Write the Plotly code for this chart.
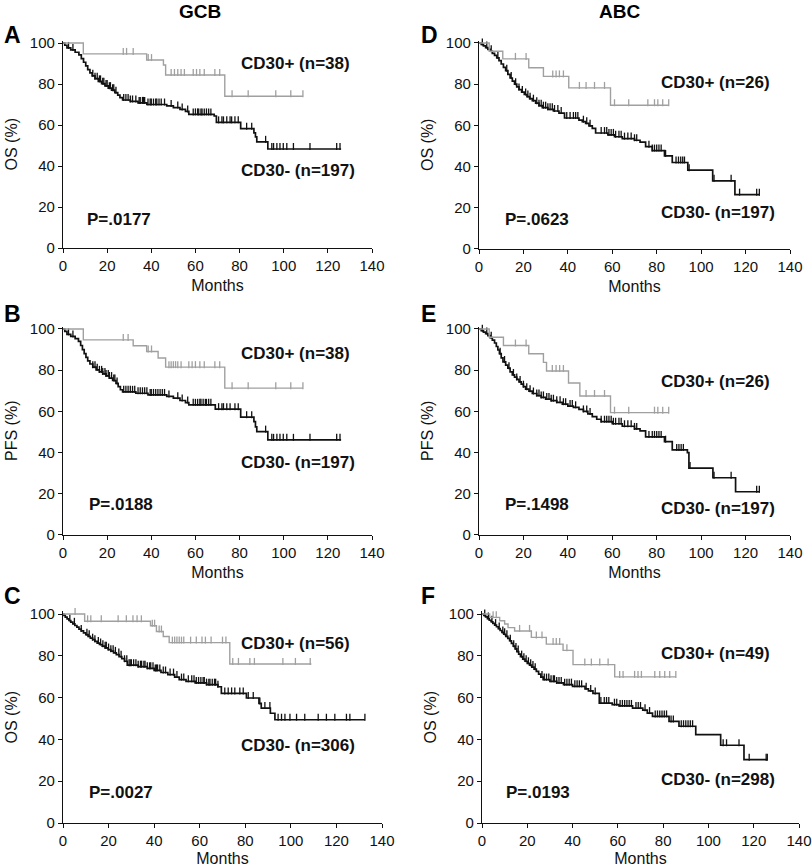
import plotly.graph_objects as go

# ---- data ----
# A: OS, GCB
a_pos_t = [9.2, 37.9, 45.5, 46.5, 73.3]
a_pos_s = [94.7, 91.7, 89.3, 84.4, 74.0]
a_pos_cens = [27.3, 28.8, 31.8, 38.6, 40.1, 49, 50.5, 52, 53.5, 55, 59, 60.5, 62, 64, 68.8, 71,
              76.6, 83.9, 96.4, 103.2, 108.7]
a_pos_end = 108.7
a_neg_t = [0.8, 1.8, 3.5, 5.5, 7.2, 8.3, 9.3, 10.3, 11.2, 12.2, 13.2, 14.5, 16, 17.5, 19, 20.5, 22,
           23.5, 24.8, 25.8, 27, 30.5, 34, 38, 47, 50, 53, 55.5, 57, 68.5, 69.5, 80.5, 86.5, 87.2,
           87.8, 92.8]
a_neg_s = [98.9, 97.6, 96.6, 95.5, 94.2, 92.4, 90.6, 88.8, 87.0, 85.4, 84.0, 82.6, 81.3, 80.2, 79.1,
           78.0, 77.0, 75.8, 74.6, 73.4, 72.2, 71.5, 70.8, 70.0, 69.3, 68.5, 67.6, 66.6, 65.2, 64.4,
           61.3, 58.2, 56.2, 54.2, 51.8, 48.3]
a_neg_cens = [2.5, 4.5, 13.5, 14.5, 15.5, 16.5, 17, 18, 18.5, 19.5, 20, 21, 21.5, 22.5, 23, 24, 27.5,
              28.5, 29.5, 30.5, 31.5, 33, 34.5, 35, 36, 36.5, 37, 38.5, 39.5, 40, 41, 42, 42.5, 43.5,
              44.5, 46, 49, 52, 54, 56.5, 59, 60, 61, 61.5, 62.5, 63, 64, 65, 66, 67, 70.5, 72, 72.7,
              74.2, 75.7, 76.4, 77.9, 79.4, 83.2, 85.5, 91.8, 94.6, 95.4, 96.9, 98.3, 99.8, 101.4,
              104.4, 111.9, 124, 125.5]
a_neg_end = 126

# B: PFS, GCB
b_pos_t = [9.2, 31.8, 37.9, 43.1, 46.5, 73.3]
b_pos_s = [94.7, 91.9, 89.1, 85.9, 81.5, 71.3]
b_pos_cens = [27.3, 29.5, 38.6, 40.1, 48, 49, 50, 51, 52, 53.5, 57, 58.5, 60, 62, 64, 68.8, 71, 76.6,
              83.9, 96.4, 103.2, 108.7]
b_pos_end = 108.7
b_neg_t = [0.8, 1.8, 3.5, 5.5, 7, 8, 8.8, 9.6, 10.4, 11.2, 12.2, 13.5, 15, 16.5, 18, 19.5, 21, 22.5,
           24, 25, 26, 27, 33, 38.5, 47, 50, 53, 55.5, 57, 69, 80.5, 86.5, 87.2, 87.8, 92.8]
b_neg_s = [98.8, 97.4, 96.4, 95.3, 94.0, 92.0, 90.0, 88.0, 86.2, 84.5, 83.0, 81.5, 80.2, 79.2, 78.2,
           77.2, 76.2, 75.0, 73.6, 72.0, 70.5, 69.5, 68.8, 68.0, 67.3, 66.4, 65.3, 64.3, 63.2, 61.1,
           57.2, 55.0, 52.5, 50.2, 46.2]
b_neg_cens = [2.5, 4.5, 13.5, 14.5, 15.5, 16.5, 17.5, 18, 19, 19.5, 20.5, 21, 22, 23, 23.5, 24.5,
              27.5, 28.5, 29.5, 30.5, 31.5, 32.5, 34, 35, 36, 37, 38, 39.5, 40, 41, 42, 43, 44, 45,
              46, 48, 52, 54, 56.5, 59, 60, 61, 62, 62.5, 63.5, 64.5, 65, 66, 67, 70.5, 72, 72.7,
              74.2, 75.7, 77.9, 79.4, 83.2, 85.5, 91.8, 94.6, 95.4, 96.9, 98.3, 99.8, 101.4, 104.4,
              111.9, 124, 125.5]
b_neg_end = 126

# C: OS, GCB (larger cohort)
c_pos_t = [9.5, 38.4, 41, 44, 46.6, 73.2]
c_pos_s = [96.5, 94.4, 91.6, 89.2, 86.3, 76.1]
c_pos_cens = [5.3, 10.8, 12.2, 16.8, 24.2, 27.8, 30.7, 32.5, 34.4, 39.2, 40.2, 42.2, 43.2, 48, 49,
              50, 51, 52, 53, 56, 58.5, 61, 62.5, 65, 70, 71.5, 74.5, 77, 82, 84, 96.5, 102, 108.5]
c_pos_end = 109
c_neg_t = [0.4, 1, 1.8, 2.6, 3.4, 4.3, 5.2, 6.1, 7, 8, 9, 10, 11, 12, 13, 14, 15, 16, 17.2, 18.5,
           19.8, 21, 22.2, 23.4, 24.6, 25.8, 27, 28.2, 33, 37, 40, 43, 46, 49, 51, 54, 58, 63, 68,
           69.5, 80.5, 86, 87, 91, 93]
c_neg_s = [99.3, 98.5, 97.7, 96.9, 96.1, 95.3, 94.5, 93.7, 92.8, 91.9, 91.0, 90.1, 89.3, 88.5, 87.7,
           86.9, 86.1, 85.4, 84.6, 83.8, 83.0, 82.2, 81.4, 80.6, 79.6, 78.6, 77.4, 75.5, 74.8, 74.0,
           73.0, 72.0, 71.0, 69.8, 68.6, 67.8, 67.0, 66.2, 65.2, 62.0, 59.8, 57.2, 55.0, 52.5, 49.4]
c_neg_cens = [3, 5, 8, 10.5, 11.5, 13, 14, 15.5, 16.5, 17.5, 18.5, 19, 20, 21, 22, 23, 24.5, 25.5,
              27, 28, 29, 29.5, 30, 31, 32, 33, 34, 34.5, 35.5, 36, 37, 38, 38.5, 39.5, 40.5, 41,
              41.5, 42.5, 44, 45, 47, 48.5, 50, 52, 53, 55, 56.5, 57.5, 58.5, 59.5, 60.5, 61.5, 62,
              63, 64, 64.5, 65.5, 66.5, 67, 68, 71, 72.5, 74, 75.4, 77.6, 79.1, 81.3, 83.5, 86.4,
              88.6, 90.8, 94.4, 95.9, 97.4, 99.6, 102.5, 106.1, 112, 115.6, 119.3, 124.4, 125.9,
              132.5]
c_neg_end = 132.5

# D: OS, ABC
d_pos_t = [4.6, 10.7, 22.4, 29, 40.4, 59.2]
d_pos_s = [96.0, 92.3, 88.0, 83.8, 78.2, 69.8]
d_pos_cens = [16.4, 21.2, 33.2, 34.7, 36.2, 38, 45.2, 48.2, 52, 56.5, 61, 67.4, 76, 79, 80.5, 82.7,
              85.4]
d_pos_end = 85.4
d_neg_t = [1, 2, 3, 4, 5, 6, 7, 8, 9, 10, 11, 12, 13, 14, 15, 16, 17, 18, 19.2, 20.4, 21.6, 22.8,
           24, 25.5, 27, 28.5, 31, 33.5, 36, 38.5, 45, 46.5, 48, 49.5, 51, 52.5, 58, 61, 64.5, 70,
           72.5, 75, 78, 83.5, 87, 94, 105.2, 115.2]
d_neg_s = [99.3, 98.6, 97.8, 96.9, 96.0, 95.0, 94.0, 92.8, 91.4, 89.8, 88.2, 86.6, 84.8, 83.0, 81.5,
           80.0, 78.7, 77.4, 76.2, 75.0, 74.0, 73.0, 72.0, 70.8, 69.6, 68.6, 67.8, 67.0, 66.0, 63.6,
           62.6, 61.8, 61.0, 59.8, 58.6, 56.3, 55.4, 54.5, 53.6, 52.8, 51.9, 49.7, 47.8, 45.2, 42.0,
           38.3, 33.1, 26.4]
d_neg_cens = [1.5, 3.5, 5.5, 8.5, 12.5, 14.5, 16.5, 18, 19.5, 21, 22, 23, 24.5, 26, 27, 28, 29, 30,
              31, 32, 33, 34, 35.5, 37, 39.5, 41, 42.5, 43.5, 44.5, 47, 48.5, 50, 55, 56.5, 57.5,
              58.5, 59.5, 60.5, 61.5, 63, 64, 65.5, 67, 68.5, 70, 71, 76.5, 78, 79, 80, 81, 82, 84,
              88.7, 89.8, 90.8, 91.7, 92.5, 94.6, 105.8, 113.5, 117.3, 125, 126.2]
d_neg_end = 126.5

# E: PFS, ABC
e_pos_t = [4.6, 11, 22.4, 29, 30.4, 40.3, 45.4, 59.2]
e_pos_s = [96.0, 92.0, 88.0, 83.8, 79.6, 73.8, 67.5, 59.4]
e_pos_cens = [16.4, 21.2, 33, 34.7, 36.3, 38, 48.2, 52, 56.5, 61, 67.4, 79, 80.5, 82.7, 85.4]
e_pos_end = 85.4
e_neg_t = [1, 2, 3, 4, 5, 6, 7, 7.8, 8.5, 9.2, 10, 10.8, 12, 13, 14, 15, 16, 17, 18, 19, 20, 21,
           22.5, 24, 26, 28, 30, 32.5, 35, 37.5, 40, 42.5, 45, 47, 49, 51, 53, 55, 60, 64.5, 70,
           72.5, 75, 83.5, 87, 93.8, 94.5, 105.3, 115.5]
e_neg_s = [99.2, 98.5, 97.8, 96.8, 95.8, 94.6, 93.2, 91.5, 89.8, 88.0, 86.0, 84.0, 82.5, 81.0, 79.2,
           77.7, 76.6, 75.5, 74.3, 73.2, 72.0, 70.8, 69.8, 68.7, 67.7, 66.8, 66.0, 65.2, 64.4, 63.5,
           62.6, 62.0, 61.0, 60.0, 58.8, 57.5, 56.2, 55.0, 54.0, 52.8, 51.5, 50.5, 47.6, 45.3, 41.3,
           40.0, 32.5, 27.8, 21.0]
e_neg_cens = [1.5, 3.5, 5.5, 9.5, 11.5, 13.5, 15.5, 17, 18.5, 20, 21.5, 23, 24.5, 26, 27, 28, 29,
              30.5, 31.5, 32.5, 33.5, 35, 36.5, 38, 39, 41, 42, 43.5, 47, 48.5, 50, 55, 56.5, 57.5,
              58.5, 59.5, 60.5, 61.5, 63, 64, 65.5, 67, 68.5, 70, 71, 76.5, 78, 79, 80, 81, 82, 84,
              89, 90, 91, 92, 95, 105.8, 113.5, 125, 126.2]
e_neg_end = 126.5

# F: OS, ABC (larger cohort)
f_pos_t = [3.4, 7.8, 10, 11.5, 14.4, 21.8, 28.4, 35.8, 40.2, 58.6]
f_pos_s = [98.4, 96.8, 95.2, 93.5, 91.9, 88.8, 85.6, 82.6, 75.8, 69.9]
f_pos_cens = [4.9, 6.3, 16.6, 21, 24, 26.5, 31.4, 32.8, 34.3, 37.5, 45.4, 48.3, 52, 55.7, 60.8, 62.3,
              67.4, 68.9, 70.4, 76.3, 78.5, 80.7, 82.9, 85.6]
f_pos_end = 85.6
f_neg_t = [0.8, 1.6, 2.4, 3.2, 4, 4.8, 5.6, 6.4, 7.2, 8, 8.8, 9.6, 10.5, 11.4, 12.2, 13, 13.8, 14.6,
           15.4, 16.2, 17, 18, 19, 20, 21, 22, 23, 24, 25, 26, 27, 30, 33, 36, 40, 45.5, 47, 49,
           51.8, 57.5, 60.5, 66.5, 71, 73, 75.3, 82.6, 87, 94.4, 105.4, 115.7]
f_neg_s = [99.3, 98.6, 97.8, 97.0, 96.3, 95.5, 94.7, 93.9, 93.0, 92.1, 91.2, 90.3, 89.3, 88.3, 87.2,
           85.9, 84.6, 83.3, 82.0, 80.8, 79.6, 78.4, 77.4, 76.4, 75.5, 74.6, 73.6, 72.5, 71.2, 69.8,
           68.6, 67.8, 67.0, 66.2, 65.4, 64.2, 63.2, 62.0, 57.4, 56.6, 56.0, 55.0, 54.0, 52.6, 51.0,
           48.6, 46.3, 42.3, 37.2, 30.3]
f_neg_cens = [1.2, 2.8, 4.4, 6, 7.6, 9.2, 10, 11, 12.5, 14, 15, 16, 17.5, 18.5, 19.5, 20.5, 21.5,
              22.5, 23.5, 26.5, 27.5, 28.5, 29.5, 30.5, 31.5, 32, 33, 34, 35, 36.5, 37.5, 38.5, 39.5,
              41, 42, 43, 44, 46, 48, 50, 52.5, 54, 55, 56, 58.5, 59.5, 61, 62, 63, 64, 65, 66, 68,
              69, 70, 72, 74, 76.5, 77.5, 78.5, 79.5, 80.5, 81.5, 83.5, 84.5, 88, 89, 90, 91, 92,
              93, 106.5, 108, 113.5, 118, 125.5, 126]
f_neg_end = 126

pos_labels = ["CD30+ (n=38)", "CD30+ (n=38)", "CD30+ (n=56)", "CD30+ (n=26)", "CD30+ (n=26)", "CD30+ (n=49)"]
neg_labels = ["CD30- (n=197)", "CD30- (n=197)", "CD30- (n=306)", "CD30- (n=197)", "CD30- (n=197)", "CD30- (n=298)"]
p_values = ["P=.0177", "P=.0188", "P=.0027", "P=.0623", "P=.1498", "P=.0193"]
y_titles = ["OS (%)", "PFS (%)", "OS (%)", "OS (%)", "PFS (%)", "OS (%)"]
panel_letters = ["A", "B", "C", "D", "E", "F"]
col_titles = ["GCB", "ABC"]

# ---- layout helpers ----
W, H = 812, 867
GRAY = "#a0a0a0"
INK = "#111111"
FONT = "Liberation Sans, Arial, sans-serif"
YTOP = 101.2

# pixel boxes: x at 0, x at 140, y at 100, y at 0
boxes = [(63, 372, 43, 248), (63, 372, 329, 535), (63, 382, 614, 823),
         (479, 790, 43, 249), (479, 790, 329, 535), (482, 799, 614, 823)]
# label positions in data units: (+ label x, y), (- label x, y), (P x, y)
label_pos = [((80.2, 89.8), (80.2, 37.6), (10.4, 13.7)),
             ((80.2, 88.3), (80.2, 35.4), (11.3, 14.6)),
             ((77.7, 86.1), (77.7, 37.3), (11.0, 14.4)),
             ((81.5, 80.6), (81.5, 17.5), (11.3, 14.1)),
             ((81.5, 74.3), (81.5, 13.1), (11.3, 14.6)),
             ((78.6, 81.3), (78.6, 20.6), (10.2, 14.4))]
letter_px = [(2, 35), (2, 314), (2, 596), (419, 35), (419, 314), (419, 596)]

curves = [
    (a_pos_t, a_pos_s, a_pos_cens, a_pos_end, a_neg_t, a_neg_s, a_neg_cens, a_neg_end),
    (b_pos_t, b_pos_s, b_pos_cens, b_pos_end, b_neg_t, b_neg_s, b_neg_cens, b_neg_end),
    (c_pos_t, c_pos_s, c_pos_cens, c_pos_end, c_neg_t, c_neg_s, c_neg_cens, c_neg_end),
    (d_pos_t, d_pos_s, d_pos_cens, d_pos_end, d_neg_t, d_neg_s, d_neg_cens, d_neg_end),
    (e_pos_t, e_pos_s, e_pos_cens, e_pos_end, e_neg_t, e_neg_s, e_neg_cens, e_neg_end),
    (f_pos_t, f_pos_s, f_pos_cens, f_pos_end, f_neg_t, f_neg_s, f_neg_cens, f_neg_end),
]


def km_xy(times, surv, end):
    return [0] + list(times) + [end], [100] + list(surv) + [surv[-1]]


def surv_at(times, surv, t):
    s = 100
    for ti, si in zip(times, surv):
        if ti <= t:
            s = si
    return s


fig = go.Figure()
annotations = []

for i, (box, cv) in enumerate(zip(boxes, curves)):
    x0, x140, y100, y0 = box
    px_per_pct = (y0 - y100) / 100
    ytop_px = y100 - (YTOP - 100) * px_per_pct
    n = i + 1
    xa, ya = ("x", "y") if n == 1 else (f"x{n}", f"y{n}")
    xkey, ykey = ("xaxis", "yaxis") if n == 1 else (f"xaxis{n}", f"yaxis{n}")

    pt, ps, pc, pe, nt, ns, nc, ne = cv
    # CD30- (black) drawn first, CD30+ (gray) on top
    for t, s, c, e, col, lw in ((nt, ns, nc, ne, INK, 1.7), (pt, ps, pc, pe, GRAY, 1.4)):
        x, y = km_xy(t, s, e)
        fig.add_trace(go.Scatter(x=x, y=y, mode="lines", line=dict(color=col, width=lw, shape="hv"),
                                 xaxis=xa, yaxis=ya, showlegend=False, hoverinfo="skip"))
        cy = [surv_at(t, s, ci) + 1.2 for ci in c]
        fig.add_trace(go.Scatter(x=c, y=cy, mode="markers", cliponaxis=False,
                                 marker=dict(symbol="line-ns", size=5, line=dict(color=col, width=1.3)),
                                 xaxis=xa, yaxis=ya, showlegend=False, hoverinfo="skip"))

    axis_common = dict(showline=True, linecolor=INK, linewidth=1.3, ticks="outside", ticklen=4,
                       tickwidth=1.3, tickcolor=INK, showgrid=False, zeroline=False, automargin=False,
                       tickfont=dict(family=FONT, size=15, color=INK), fixedrange=True)
    fig.update_layout(**{
        xkey: dict(axis_common, domain=[x0 / W, x140 / W], range=[0, 140], dtick=20, anchor=ya,
                   title=dict(text="Months", font=dict(family=FONT, size=16, color=INK), standoff=6)),
        ykey: dict(axis_common, domain=[1 - y0 / H, 1 - ytop_px / H], range=[0, YTOP],
                   tickvals=[0, 20, 40, 60, 80, 100], anchor=xa,
                   title=dict(text=y_titles[i], font=dict(family=FONT, size=16, color=INK), standoff=8)),
    })

    (lpx, lpy), (lnx, lny), (lpvx, lpvy) = label_pos[i]
    bold = dict(family=FONT, size=17, color=INK)
    for txt, lx, ly in ((pos_labels[i], lpx, lpy), (neg_labels[i], lnx, lny), (p_values[i], lpvx, lpvy)):
        annotations.append(dict(text=f"<b>{txt}</b>", x=lx, y=ly, xref=xa, yref=ya, xanchor="left",
                                yanchor="middle", showarrow=False, font=bold, borderpad=0))

    lx, ly = letter_px[i]
    annotations.append(dict(text=f"<b>{panel_letters[i]}</b>", x=lx / W, y=1 - ly / H, xref="paper",
                            yref="paper", xanchor="left", yanchor="middle", showarrow=False,
                            font=dict(family=FONT, size=23, color="#000")))

for txt, cx in zip(col_titles, (200, 619)):
    annotations.append(dict(text=f"<b>{txt}</b>", x=cx / W, y=1 - 11 / H, xref="paper", yref="paper",
                            xanchor="center", yanchor="middle", showarrow=False,
                            font=dict(family=FONT, size=19, color="#000")))

fig.update_layout(width=W, height=H, margin=dict(l=0, r=0, t=0, b=0), paper_bgcolor="white",
                  plot_bgcolor="white", annotations=annotations, font=dict(family=FONT))

# the page body has a default 8px margin; drop it so the figure fills the window
fig.write_html("out.html", config={"displayModeBar": False},
               post_script="document.body.style.margin='0';")
